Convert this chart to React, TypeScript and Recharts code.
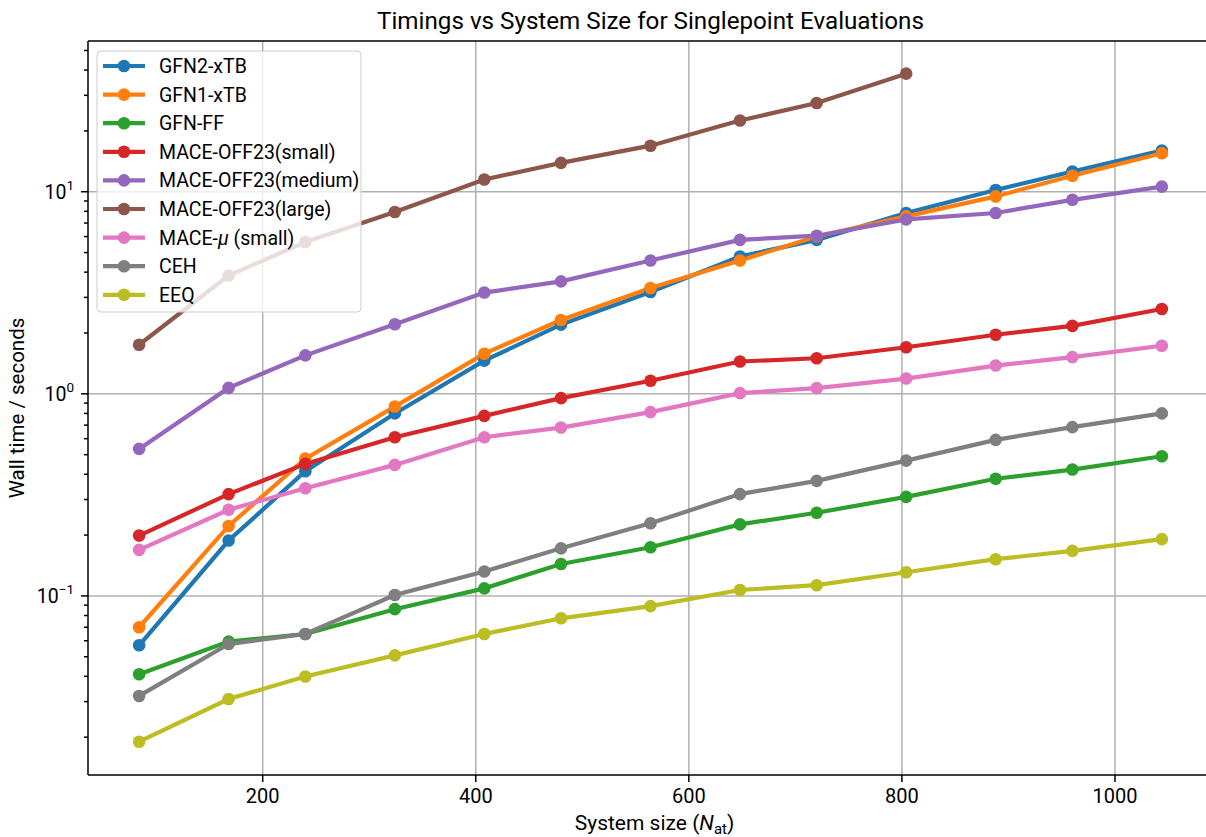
import React from 'react';
import { CartesianGrid, Line, LineChart, XAxis, YAxis } from 'recharts';

// system sizes (number of atoms)
const SIZES = [84, 168, 240, 324, 408, 480, 564, 648, 720, 804, 888, 960, 1044];

// wall times in seconds, one entry per system size
const GFN2_XTB = [0.057, 0.188, 0.414, 0.8, 1.46, 2.2, 3.19, 4.78, 5.78, 7.85, 10.2, 12.6, 16.0];
const GFN1_XTB = [0.07, 0.222, 0.478, 0.865, 1.58, 2.32, 3.34, 4.57, 6.0, 7.55, 9.48, 12.0, 15.5];
const GFN_FF = [0.041, 0.0594, 0.0648, 0.086, 0.109, 0.144, 0.174, 0.226, 0.258, 0.309, 0.38, 0.422, 0.491];
const MACE_OFF23_SMALL = [0.199, 0.319, 0.45, 0.61, 0.778, 0.952, 1.16, 1.445, 1.5, 1.7, 1.96, 2.17, 2.63];
const MACE_OFF23_MEDIUM = [0.534, 1.07, 1.55, 2.21, 3.17, 3.6, 4.57, 5.78, 6.06, 7.3, 7.85, 9.12, 10.6];
const MACE_OFF23_LARGE = [1.75, 3.85, 5.64, 7.94, 11.5, 13.9, 16.9, 22.5, 27.5, 38.4];
const MACE_MU_SMALL = [0.169, 0.267, 0.341, 0.445, 0.61, 0.681, 0.812, 1.008, 1.067, 1.19, 1.38, 1.52, 1.73];
const CEH = [0.032, 0.0578, 0.0648, 0.101, 0.132, 0.172, 0.229, 0.319, 0.371, 0.467, 0.592, 0.684, 0.8];
const EEQ = [0.019, 0.0309, 0.0399, 0.0508, 0.0648, 0.0775, 0.089, 0.107, 0.113, 0.131, 0.152, 0.167, 0.191];

const X_TICKS = [200, 400, 600, 800, 1000];
const Y_MAJOR = [0.1, 1, 10];
const Y_TICKS = [
  0.02, 0.03, 0.04, 0.05, 0.06, 0.07, 0.08, 0.09,
  0.1, 0.2, 0.3, 0.4, 0.5, 0.6, 0.7, 0.8, 0.9,
  1, 2, 3, 4, 5, 6, 7, 8, 9,
  10, 20, 30, 40, 50,
];

type Series = { key: string; label: React.ReactNode; color: string; values: number[] };

const SERIES: Series[] = [
  { key: 'gfn2', label: 'GFN2-xTB', color: '#1f77b4', values: GFN2_XTB },
  { key: 'gfn1', label: 'GFN1-xTB', color: '#ff7f0e', values: GFN1_XTB },
  { key: 'gfnff', label: 'GFN-FF', color: '#2ca02c', values: GFN_FF },
  { key: 'offSmall', label: 'MACE-OFF23(small)', color: '#d62728', values: MACE_OFF23_SMALL },
  { key: 'offMedium', label: 'MACE-OFF23(medium)', color: '#9467bd', values: MACE_OFF23_MEDIUM },
  { key: 'offLarge', label: 'MACE-OFF23(large)', color: '#8c564b', values: MACE_OFF23_LARGE },
  {
    key: 'muSmall',
    label: (
      <>
        MACE-<tspan fontStyle="italic">μ</tspan> (small)
      </>
    ),
    color: '#e377c2',
    values: MACE_MU_SMALL,
  },
  { key: 'ceh', label: 'CEH', color: '#7f7f7f', values: CEH },
  { key: 'eeq', label: 'EEQ', color: '#bcbd22', values: EEQ },
];

const chartData = SIZES.map((n, i) => {
  const row: Record<string, number | null> = { n };
  SERIES.forEach((s) => {
    row[s.key] = s.values[i] ?? null;
  });
  return row;
});

const FONT = 'Roboto, "DejaVu Sans", sans-serif';
const W = 1220;
const H = 837;
const PLOT_LEFT = 88;
const PLOT_TOP = 41;
const PLOT_BOTTOM = 775;
const PLOT_RIGHT = 1213;

const SUP: Record<string, string> = { '0.1': '−1', '1': '0', '10': '1' };

const YTick = (props: any) => {
  const { y, payload } = props;
  const v = payload.value;
  const major = Y_MAJOR.includes(v);
  return (
    <g>
      <line x1={PLOT_LEFT} x2={PLOT_LEFT - (major ? 7 : 4)} y1={y} y2={y} stroke="#000" strokeWidth={1.5} />
      {major && (
        <text x={PLOT_LEFT - 14} y={y + 7} textAnchor="end" fontFamily={FONT} fontSize={19.5} fill="#000">
          10
          <tspan dy={-9} fontSize={13.5}>
            {SUP[String(v)]}
          </tspan>
        </text>
      )}
    </g>
  );
};

const Legend = () => {
  const x0 = 97;
  const y0 = 51;
  const rowH = 28.6;
  return (
    <g>
      <rect x={x0} y={y0} width={264} height={261} rx={4} fill="#fff" fillOpacity={0.8} stroke="#cccccc" strokeWidth={1} />
      {SERIES.map((s, i) => {
        const cy = y0 + 15 + i * rowH;
        return (
          <g key={s.key}>
            <line x1={x0 + 6} x2={x0 + 48} y1={cy} y2={cy} stroke={s.color} strokeWidth={4.2} />
            <circle cx={x0 + 27} cy={cy} r={6.3} fill={s.color} />
            <text x={x0 + 62} y={cy + 7} fontFamily={FONT} fontSize={19.5} fill="#000">
              {s.label}
            </text>
          </g>
        );
      })}
    </g>
  );
};

export default function App() {
  const midX = (PLOT_LEFT + PLOT_RIGHT) / 2;
  const midY = (PLOT_TOP + PLOT_BOTTOM) / 2;
  return (
    <div style={{ position: 'absolute', left: 0, top: 0, width: 1206, height: H, overflow: 'hidden', background: '#fff' }}>
      <LineChart width={W} height={H} data={chartData} margin={{ top: PLOT_TOP, right: W - PLOT_RIGHT, bottom: 0, left: 0 }}>
        <CartesianGrid
          horizontalValues={Y_MAJOR}
          verticalValues={X_TICKS}
          stroke="#b0b0b0"
          strokeWidth={1.5}
        />
        <XAxis
          dataKey="n"
          type="number"
          domain={[36, 1092]}
          ticks={X_TICKS}
          allowDataOverflow
          height={H - PLOT_BOTTOM}
          tickSize={7}
          tickMargin={7}
          axisLine={{ stroke: '#000', strokeWidth: 1.5 }}
          tickLine={{ stroke: '#000', strokeWidth: 1.5 }}
          tick={{ fontFamily: FONT, fontSize: 20, fill: '#000' }}
        />
        <YAxis
          type="number"
          scale="log"
          domain={[0.013, 55.7]}
          allowDataOverflow
          ticks={Y_TICKS}
          interval={0}
          width={PLOT_LEFT}
          tickLine={false}
          axisLine={{ stroke: '#000', strokeWidth: 1.5 }}
          tick={<YTick />}
        />
        {SERIES.map((s) => (
          <Line
            key={s.key}
            dataKey={s.key}
            type="linear"
            stroke={s.color}
            strokeWidth={4.2}
            dot={{ r: 6.3, fill: s.color, stroke: s.color, strokeWidth: 0 }}
            activeDot={false}
            isAnimationActive={false}
          />
        ))}
      </LineChart>
      <svg width={1206} height={H} style={{ position: 'absolute', left: 0, top: 0, pointerEvents: 'none' }}>
        <line x1={PLOT_LEFT} x2={PLOT_RIGHT} y1={PLOT_TOP} y2={PLOT_TOP} stroke="#000" strokeWidth={1.5} />
        <text x={midX} y={29} textAnchor="middle" fontFamily={FONT} fontSize={24.2} fill="#000">
          Timings vs System Size for Singlepoint Evaluations
        </text>
        <text x={midX + 4} y={830} textAnchor="middle" fontFamily={FONT} fontSize={21} fill="#000">
          System size (<tspan fontStyle="italic">N</tspan>
          <tspan dy={4} fontSize={15}>at</tspan>
          <tspan dy={-4}>)</tspan>
        </text>
        <text
          x={24}
          y={midY}
          textAnchor="middle"
          transform={`rotate(-90, 24, ${midY})`}
          fontFamily={FONT}
          fontSize={20.5}
          fill="#000"
        >
          Wall time / seconds
        </text>
        <Legend />
      </svg>
    </div>
  );
}
